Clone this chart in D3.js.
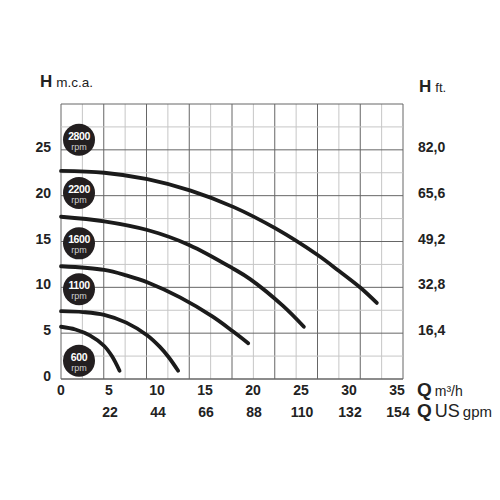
<!DOCTYPE html>
<html><head><meta charset="utf-8">
<script src="https://cdn.jsdelivr.net/npm/d3@7"></script>
<style>body{margin:0;background:#fff}svg{display:block}text{font-family:"Liberation Sans",Arial,sans-serif}</style>
</head><body>
<svg id="c" width="500" height="500"></svg>
<script>
// Data (Q in m3/h, H in m.c.a.)
const speeds = ["2800", "2200", "1600", "1100", "600"];
const q2800 = [0, 4.5, 9, 13.5, 18, 22.3, 26.7, 29, 31.2, 32.9];
const h2800 = [22.7, 22.5, 21.8, 20.55, 18.75, 16.45, 13.55, 11.75, 9.95, 8.3];
const q2200 = [0, 4.5, 9, 13.4, 18, 19.7, 23.1, 25.3];
const h2200 = [17.7, 17.2, 16.25, 14.6, 12.0, 10.9, 8.0, 5.7];
const q1600 = [0, 4.5, 6.8, 9.1, 12.4, 15.8, 17.9, 19.5];
const h1600 = [12.3, 11.9, 11.3, 10.5, 8.9, 6.8, 5.2, 3.9];
const q1100 = [0, 2.3, 4.5, 6.8, 9, 10.3, 11.2, 12.2];
const h1100 = [7.4, 7.3, 7.0, 6.15, 4.75, 3.5, 2.4, 0.9];
const q600 = [0, 1.5, 3, 4.5, 5.3, 6.1];
const h600 = [5.7, 5.4, 4.75, 3.6, 2.5, 0.9];
const badgeH = [26.1, 20.3, 14.8, 9.8, 2.0];   // badge positions (m)
const yTicks = [0, 5, 10, 15, 20, 25];
const ftLabels = ["16,4", "32,8", "49,2", "65,6", "82,0"];
const qTicks = [0, 5, 10, 15, 20, 25, 30, 35];
const gpmLabels = ["22", "44", "66", "88", "110", "132", "154"];

const svg = d3.select("#c");
const L = 61, R = 403, T = 104, B = 379;
const y = d3.scaleLinear().domain([0, 30]).range([B, T]);
const x = d3.scaleLinear().domain([0, 35]).range([61, 397]);
const gx = d3.scaleLinear().domain([0, 16]).range([L, R]);

// grid
const g = svg.append("g");
d3.range(0, 17).forEach(i => {
  g.append("line").attr("x1", gx(i)).attr("x2", gx(i)).attr("y1", T).attr("y2", B)
    .attr("stroke", i % 2 === 0 ? "#666" : "#c6c6c6").attr("stroke-width", 1);
});
d3.range(0, 13).forEach(i => {
  const v = i * 2.5;
  g.append("line").attr("x1", L).attr("x2", R).attr("y1", y(v)).attr("y2", y(v))
    .attr("stroke", i % 2 === 0 ? "#666" : "#c6c6c6").attr("stroke-width", i === 0 ? 1.5 : 1);
});

// curves
const series = [[q2800, h2800], [q2200, h2200], [q1600, h1600], [q1100, h1100], [q600, h600]];
const line = d3.line().x(d => x(d[0])).y(d => y(d[1])).curve(d3.curveCatmullRom.alpha(0.5));
series.forEach(([qs, hs]) => {
  svg.append("path").attr("d", line(qs.map((q, i) => [q, hs[i]])))
    .attr("fill", "none").attr("stroke", "#1b1b1b").attr("stroke-width", 3.8)
    .attr("stroke-linecap", "round");
});

// badges
speeds.forEach((s, i) => {
  const cy = y(badgeH[i]);
  const b = svg.append("g").attr("transform", `translate(79,${cy})`);
  b.append("circle").attr("r", 16).attr("fill", "#231f20");
  b.append("text").attr("y", 0).attr("text-anchor", "middle").attr("font-size", 10.5)
    .attr("font-weight", "bold").attr("fill", "#fff").attr("letter-spacing", -0.4).text(s);
  b.append("text").attr("y", 10).attr("text-anchor", "middle").attr("font-size", 9)
    .attr("fill", "#d0d0d0").text("rpm");
});

// left axis labels
yTicks.forEach(v => {
  svg.append("text").attr("x", 51).attr("y", y(v) + 2).attr("text-anchor", "end")
    .attr("font-size", 14).attr("font-weight", "bold").attr("fill", "#222").text(v);
});
// right axis labels
ftLabels.forEach((t, i) => {
  svg.append("text").attr("x", 418).attr("y", y(yTicks[i + 1]) + 2)
    .attr("font-size", 14).attr("font-weight", "bold").attr("fill", "#222").text(t);
});
// bottom labels
qTicks.forEach(v => {
  svg.append("text").attr("x", x(v)).attr("y", 395).attr("text-anchor", "middle")
    .attr("font-size", 14).attr("font-weight", "bold").attr("fill", "#222").text(v);
});
gpmLabels.forEach((t, i) => {
  svg.append("text").attr("x", x(qTicks[i + 1]) + 1).attr("y", 417).attr("text-anchor", "middle")
    .attr("font-size", 14).attr("font-weight", "bold").attr("fill", "#222").text(t);
});

// axis titles
const t1 = svg.append("text").attr("x", 40).attr("y", 87).attr("fill", "#222");
t1.append("tspan").attr("font-size", 17).attr("font-weight", "bold").text("H");
t1.append("tspan").attr("dx", 4).attr("font-size", 13.5).text("m.c.a.");
const t2 = svg.append("text").attr("x", 419).attr("y", 92).attr("fill", "#222");
t2.append("tspan").attr("font-size", 17).attr("font-weight", "bold").text("H");
t2.append("tspan").attr("dx", 4).attr("font-size", 13).text("ft.");
const t3 = svg.append("text").attr("x", 417).attr("y", 396).attr("fill", "#222");
t3.append("tspan").attr("font-size", 19).attr("font-weight", "bold").text("Q");
t3.append("tspan").attr("dx", 3).attr("font-size", 14).text("m³/h");
const t4 = svg.append("text").attr("x", 417).attr("y", 417).attr("fill", "#222");
t4.append("tspan").attr("font-size", 19).attr("font-weight", "bold").text("Q");
t4.append("tspan").attr("dx", 3).attr("font-size", 18).text("US");
t4.append("tspan").attr("dx", 3).attr("font-size", 15).text("gpm");
</script>
</body></html>
